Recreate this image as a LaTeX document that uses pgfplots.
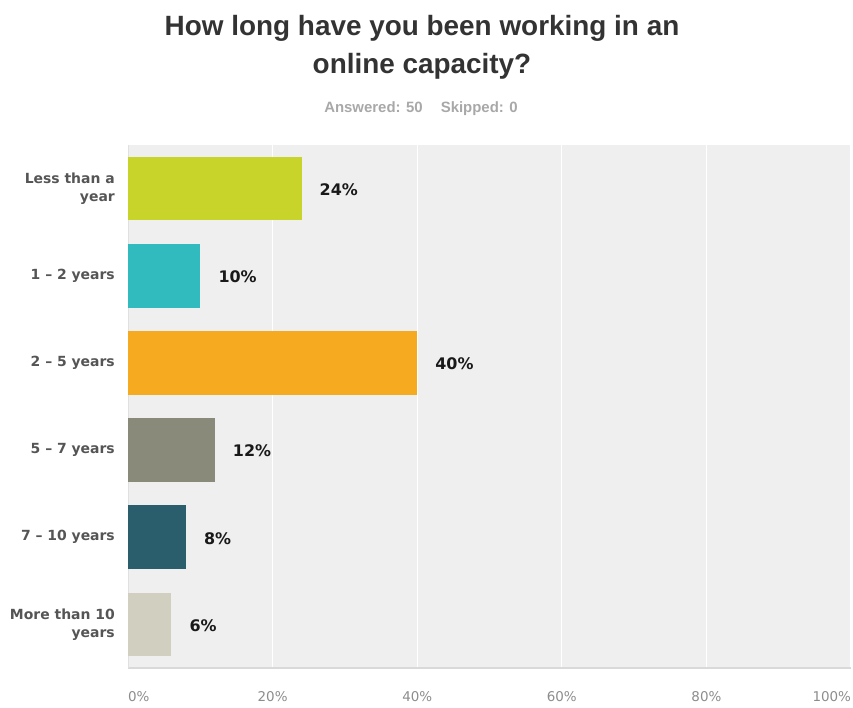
\documentclass[border=0pt]{standalone}
\usepackage{pgfplots}
\pgfplotsset{compat=1.18}
\usepackage{fontspec}
\setmainfont{Liberation Sans}
\newfontfamily\vfont{DejaVu Sans}
\definecolor{c1}{HTML}{C9D42A}
\definecolor{c2}{HTML}{31BBBF}
\definecolor{c3}{HTML}{F5AA1F}
\definecolor{c4}{HTML}{8A8A7B}
\definecolor{c5}{HTML}{2A5E6C}
\definecolor{c6}{HTML}{D0CFC0}
\definecolor{bg}{HTML}{EFEFEF}
\definecolor{titlec}{HTML}{333333}
\definecolor{subc}{HTML}{A8A8A8}
\definecolor{labc}{HTML}{555555}
\definecolor{tickc}{HTML}{8C8C8C}
\begin{document}
\begin{tikzpicture}
\useasboundingbox (0bp,0bp) rectangle (853bp,-708bp);
\node[font=\bfseries\fontsize{28}{38}\selectfont, text=titlec, anchor=base] at (422bp,-35bp) {How long have you been working in an};
\node[font=\bfseries\fontsize{28}{38}\selectfont, text=titlec, anchor=base] at (422bp,-73bp) {online capacity?};
\node[font=\bfseries\fontsize{15}{16}\selectfont, text=subc, anchor=base] at (421bp,-112bp) {Answered: 50\hspace{18bp}Skipped: 0};
\begin{axis}[
  at={(128bp,-145bp)}, anchor=north west,
  scale only axis, width=723bp, height=523bp,
  xbar, bar width=0.73, bar shift=0pt,
  xmin=0, xmax=100, ymin=-0.5, ymax=5.5,
  y dir=reverse,
  axis background/.style={fill=bg},
  axis x line*=bottom, axis y line*=left,
  x axis line style={draw=black!15, line width=2.5bp},
  y axis line style={draw=black!12, line width=1bp},
  xmajorgrids, major grid style={draw=white, line width=1.2bp},
  major tick length=0pt,
  xtick={0,20,40,60,80,100},
  xticklabels={\makebox[0pt][l]{0\%},20\%,40\%,60\%,80\%,\makebox[0pt][r]{100\%}},
  xticklabel style={font=\vfont\fontsize{13.5}{15}\selectfont, text=tickc, inner sep=0pt, anchor=north, yshift=-23bp},
  ytick={0,1,2,3,4,5},
  yticklabels={{Less than a\\year},{1 – 2 years},{2 – 5 years},{5 – 7 years},{7 – 10 years},{More than 10\\years}},
  yticklabel style={font=\vfont\bfseries\fontsize{14}{18}\selectfont, text=labc, align=right, inner sep=0pt, anchor=east, xshift=-13bp},
  /pgf/number format/assume math mode=true,
  nodes near coords={\pgfmathprintnumber{\pgfplotspointmeta}\%},
  every node near coord/.append style={font=\vfont\bfseries\fontsize{16}{18}\selectfont, text=black!90, anchor=west, inner sep=0pt, xshift=18bp, yshift=-1bp},
  clip=false,
]
\addplot[fill=c1, draw=none] coordinates {(24,0)};
\addplot[fill=c2, draw=none] coordinates {(10,1)};
\addplot[fill=c3, draw=none] coordinates {(40,2)};
\addplot[fill=c4, draw=none] coordinates {(12,3)};
\addplot[fill=c5, draw=none] coordinates {(8,4)};
\addplot[fill=c6, draw=none] coordinates {(6,5)};
\end{axis}
\end{tikzpicture}
\end{document}
